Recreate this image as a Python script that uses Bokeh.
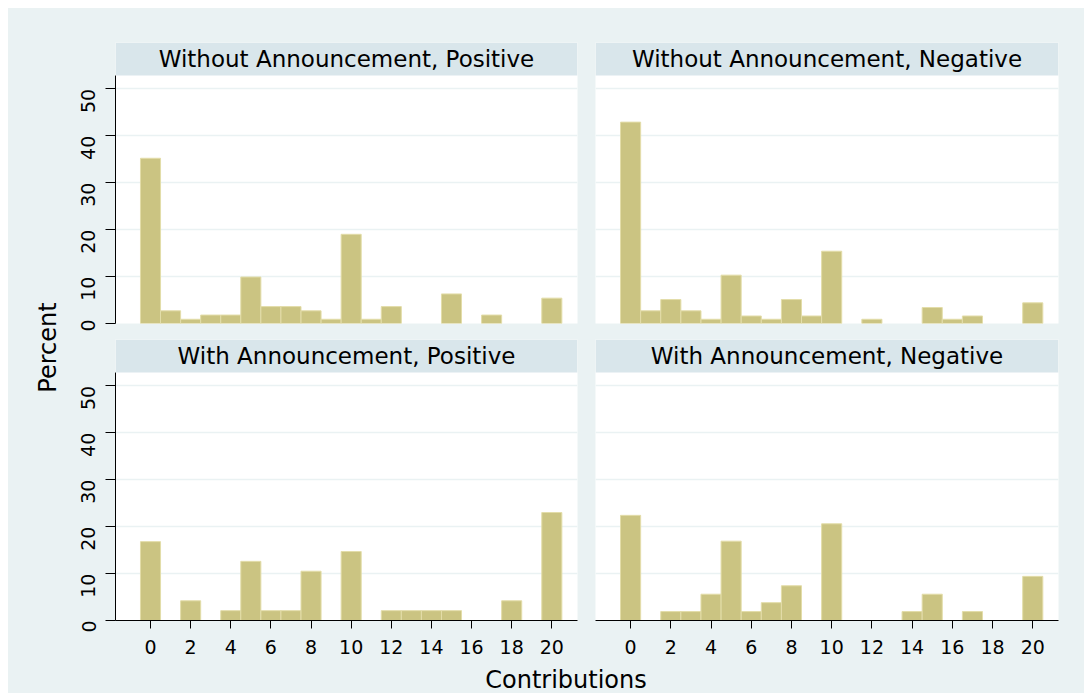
import math
from bokeh.plotting import figure
from bokeh.layouts import row, column
from bokeh.models import Range1d, LinearAxis, FixedTicker, Grid, Label, ColumnDataSource, BoxAnnotation
from bokeh.embed import file_html
from bokeh.resources import INLINE

# ---------------- data ----------------
contributions = list(range(21))
without_positive = [35.2, 2.7, 0.9, 1.8, 1.8, 9.9, 3.6, 3.6, 2.7, 0.9, 19.0, 0.9, 3.6, 0, 0, 6.3, 0, 1.8, 0, 0, 5.4]
without_negative = [42.9, 2.7, 5.1, 2.7, 0.9, 10.3, 1.6, 0.9, 5.1, 1.6, 15.4, 0, 0.9, 0, 0, 3.4, 0.9, 1.6, 0, 0, 4.4]
with_positive = [16.8, 0, 4.2, 0, 2.1, 12.6, 2.1, 2.1, 10.5, 0, 14.7, 0, 2.1, 2.1, 2.1, 2.1, 0, 0, 4.2, 0, 23.0]
with_negative = [22.4, 0, 1.9, 1.9, 5.6, 16.9, 1.9, 3.8, 7.4, 0, 20.6, 0, 0, 0, 1.9, 5.6, 0, 1.9, 0, 0, 9.4]
panel_titles = ["Without Announcement, Positive", "Without Announcement, Negative",
                "With Announcement, Positive", "With Announcement, Negative"]
y_ticks = [0, 10, 20, 30, 40, 50]
x_ticks = [0, 2, 4, 6, 8, 10, 12, 14, 16, 18, 20]
x_title = "Contributions"
y_title = "Percent"

# ---------------- style ----------------
BG = "#EAF2F3"
STRIP = "#D9E6EB"
BAR = "#CBC482"
BAR_LINE = "#E3DDA9"
FONT = "DejaVu Sans"

PLOT_TOP = 52.83   # top of the data area (below the header strip)
Y_END = 59.86      # top of frame including header strip
X_START, X_END = -1.745, 21.28


def make_panel(title, values, show_y, show_x, width, height, bl, br, bt, bb):
    p = figure(width=width, height=height,
               x_range=Range1d(X_START, X_END), y_range=Range1d(0, Y_END),
               x_axis_location=None, y_axis_location=None,
               toolbar_location=None, output_backend="svg",
               min_border_left=bl, min_border_right=br,
               min_border_top=bt, min_border_bottom=bb,
               background_fill_color="white", border_fill_color=BG,
               outline_line_color=None)
    p.grid.visible = False
    grid = Grid(dimension=1, ticker=FixedTicker(ticks=y_ticks),
                grid_line_color=BG, grid_line_width=1.6)
    p.add_layout(grid)

    xs = [c for c, v in zip(contributions, values) if v > 0]
    tops = [v for v in values if v > 0]
    src = ColumnDataSource(dict(x=xs, top=tops))
    p.vbar(x="x", top="top", bottom=0, width=1.0, source=src,
           fill_color=BAR, line_color=BAR_LINE, line_width=1)

    p.add_layout(BoxAnnotation(bottom=PLOT_TOP, fill_color=STRIP, fill_alpha=1.0,
                               line_alpha=0))
    p.add_layout(Label(x=(X_START + X_END) / 2, y=(PLOT_TOP + Y_END) / 2, text=title,
                       text_align="center", text_baseline="middle",
                       text_font=FONT, text_font_size="23px", text_color="black"))

    if show_y:
        yax = LinearAxis(ticker=FixedTicker(ticks=y_ticks), bounds=(0, PLOT_TOP),
                         major_tick_out=10, major_tick_in=0,
                         minor_tick_out=0, minor_tick_in=0,
                         major_label_orientation=math.pi / 2,
                         major_label_standoff=17,
                         axis_line_color="black", major_tick_line_color="black",
                         major_label_text_font=FONT, major_label_text_font_size="19px",
                         major_label_text_color="black")
        p.add_layout(yax, "left")
    if show_x:
        xax = LinearAxis(ticker=FixedTicker(ticks=x_ticks),
                         major_tick_out=8, major_tick_in=0,
                         minor_tick_out=0, minor_tick_in=0,
                         major_label_standoff=11,
                         axis_line_color="black", major_tick_line_color="black",
                         major_label_text_font=FONT, major_label_text_font_size="19px",
                         major_label_text_color="black")
        p.add_layout(xax, "below")
    return p


p1 = make_panel(panel_titles[0], without_positive, True, False, 524, 323, 53, 9, 34, 8)
p2 = make_panel(panel_titles[1], without_negative, False, False, 498, 323, 9, 26, 34, 8)
p3 = make_panel(panel_titles[2], with_positive, True, True, 524, 331, 53, 9, 8, 42)
p4 = make_panel(panel_titles[3], with_negative, False, True, 498, 331, 9, 26, 8, 42)


def strip(width, height):
    s = figure(width=width, height=height, x_range=Range1d(0, width), y_range=Range1d(0, height),
               x_axis_location=None, y_axis_location=None, min_border=0,
               toolbar_location=None, output_backend="svg",
               background_fill_color=BG, border_fill_color=BG, outline_line_color=None)
    s.grid.visible = False
    return s


left = strip(54, 685)
left.add_layout(Label(x=39, y=346, text=y_title, angle=math.pi / 2,
                      text_align="center", text_baseline="middle",
                      text_font=FONT, text_font_size="24px", text_color="black"))

bottom = strip(1022, 31)
bottom.add_layout(Label(x=503.5, y=14, text=x_title,
                        text_align="center", text_baseline="middle",
                        text_font=FONT, text_font_size="24px", text_color="black"))

bg_style = {"background-color": BG}
layout = row(left,
             column(row(p1, p2, styles=bg_style),
                    row(p3, p4, styles=bg_style),
                    bottom, styles=bg_style),
             margin=(8, 0, 0, 8), styles=bg_style)

open("out.html", "w").write(file_html(layout, INLINE))
